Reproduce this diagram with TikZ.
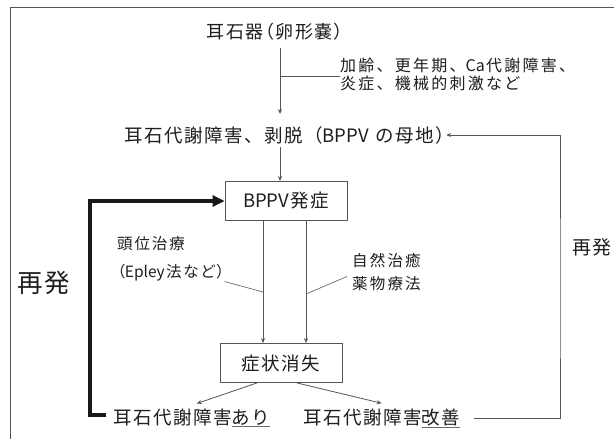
\documentclass[tikz,border=0pt]{standalone}
\usepackage{fontspec}
\setmainfont{Noto Sans CJK JP}
\newfontfamily\jpn{Noto Sans CJK JP}
\newfontfamily\jpt[LetterSpace=8]{Noto Sans CJK JP}
\newfontfamily\jpl[LetterSpace=14]{Noto Sans CJK JP}
\newfontfamily\jps[LetterSpace=12,RawFeature=+palt]{Noto Sans CJK JP}
\newfontfamily\jpp[LetterSpace=8,RawFeature=+palt]{Noto Sans CJK JP}
\usetikzlibrary{arrows.meta}
\definecolor{ink}{HTML}{1E1E1E}
\definecolor{lineg}{HTML}{555555}
\definecolor{leadg}{HTML}{6A6A6A}
\newcommand\gul[1]{{\color{leadg}\underline{\color{ink}#1}}}
\newcommand\lat[1]{{\jpn #1}\hspace{1.2pt}}
\begin{document}
\begin{tikzpicture}[x=1pt,y=-1pt,
  txt/.style={text=ink, inner sep=0pt},
  conn/.style={draw=lineg, line width=0.8pt},
  arr/.style={conn, -{Stealth[length=5pt,width=4pt]}},
  lead/.style={draw=leadg, line width=0.7pt},
  boxn/.style={draw=lineg, line width=0.9pt, fill=white, minimum width=122pt, minimum height=39pt, inner sep=0pt, text=ink, font=\jpt\fontsize{18.5}{20}\selectfont},
  thickarr/.style={draw=black!90, line width=3.6pt, -{Triangle[length=12pt,width=11pt]}}]
\clip (0,0) rectangle (614,439);
\fill[white] (0,0) rectangle (614,439);
\draw[draw=lineg, line width=0.9pt] (10,445) -- (10,7.5) -- (620,7.5);

\node[txt, font=\jpp\fontsize{18}{20}\selectfont] (t) at (275,32) {耳石器（卵形嚢）};
\node[txt, font=\jpt\fontsize{18.5}{20}\selectfont, anchor=west] (r2) at (124,135) {耳石代謝障害、剥脱（\lat{BPPV} の母地）};
\node[txt, font=\jpl\fontsize{16}{18}\selectfont, anchor=west, align=left] (lab) at (340,74) {加齢、更年期、\lat{Ca}代謝障害、\\炎症、機械的刺激など};
\node[boxn] (p1) at (286,201) {\lat{BPPV}発症};
\node[boxn] (p2) at (281,363) {症状消失};
\node[txt, font=\jps\fontsize{15.5}{28}\selectfont, anchor=west, align=left] (lt) at (117,259) {頭位治療\\（\lat{Epley}法など）};
\node[txt, font=\jpl\fontsize{15.5}{23}\selectfont, anchor=west, align=left] (rt) at (352,272.5) {自然治癒\\薬物療法};
\node[txt, font=\jpt\fontsize{25.5}{27}\selectfont, anchor=west] (rL) at (17,283) {再発};
\node[txt, font=\jpt\fontsize{19}{20}\selectfont, anchor=west] (rR) at (572,247) {再発};
\node[txt, font=\jpt\fontsize{18.5}{20}\selectfont, anchor=west] (b1) at (113,418) {耳石代謝障害\gul{あり}};
\node[txt, font=\jpt\fontsize{18.5}{20}\selectfont, anchor=west] (b2) at (303,418) {耳石代謝障害\gul{改善}};

\coordinate (vx) at (280,0);
\coordinate (l1) at (263,0);
\coordinate (l2) at (306,0);
\coordinate (s1) at (257,0);
\coordinate (s2) at (297,0);
\coordinate (rc) at (560,300);
\coordinate (kx) at (90,201);
\coordinate (br) at (280,76);
\coordinate (lp1) at (263,292);
\coordinate (lp2) at (306,294);

\draw[arr, shorten <=7pt, shorten >=12pt] (t.south -| vx) -- (r2.north -| vx);
\draw[conn] (br) -- (lab.west |- br);
\draw[arr, shorten <=3pt] (r2.south -| vx) -- (p1.north -| vx);
\draw[thickarr] ([xshift=-7pt,yshift=3pt]b1.west) -| (kx) -- (p1.west);
\draw[arr] (p1.south -| l1) -- (p2.north -| l1);
\draw[arr] (p1.south -| l2) -- (p2.north -| l2);
\draw[lead] (lt.south east) -- (lp1);
\draw[lead] ([xshift=-5pt,yshift=-4pt]rt.west) -- (lp2);
\draw[arr] (p2.south -| s1) -- ([xshift=5pt,yshift=5pt]b1.north);
\draw[arr] (p2.south -| s2) -- ([yshift=5pt]b2.north);
\draw[arr] ([xshift=14pt]b2.east) -| (rc) |- ([xshift=-8pt]r2.east);
\end{tikzpicture}
\end{document}
